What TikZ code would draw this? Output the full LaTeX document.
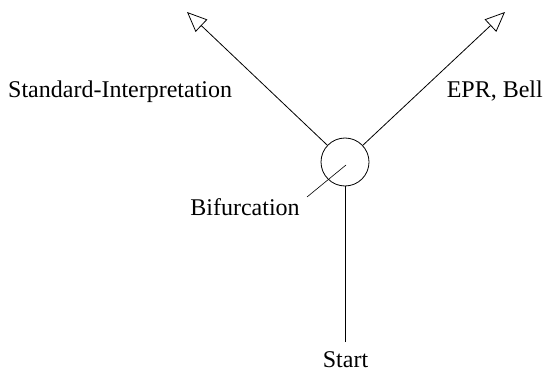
\documentclass[tikz,border=0pt]{standalone}
\usepackage{fontspec}
\setmainfont{Liberation Serif}
\usetikzlibrary{arrows.meta}
\tikzset{
  lbl/.style={inner sep=0pt,anchor=base,font=\fontsize{24}{27}\selectfont},
  branch/.style={line width=0.8pt,-{Triangle[open,length=20pt,width=17pt,line width=0.8pt]}}
}
\begin{document}
\begin{tikzpicture}[x=1pt,y=-1pt]
\useasboundingbox (0,0) rectangle (548,374);

% the bifurcation point
\node[draw,circle,line width=0.8pt,minimum size=48pt,inner sep=0pt] (bif) at (345,162) {};

\coordinate (tipL) at (187,12);
\coordinate (tipR) at (505,12);
\coordinate (root) at (345,342);
\coordinate (ptr) at (307,197);

\draw[branch] (bif) -- (tipL);
\draw[branch] (bif) -- (tipR);
\draw[line width=0.8pt] (root) -- (bif);
\draw[line width=0.6pt] (ptr) -- (346,165);

\node[lbl,anchor=base west] (std) at (8,98) {Standard-Interpretation};
\node[lbl,anchor=base east] (epr) at (543,98) {EPR, Bell};
\node[lbl] (bifl) at (245,215) {Bifurcation};
\node[lbl] (start) at (345.5,367) {Start};
\end{tikzpicture}
\end{document}
